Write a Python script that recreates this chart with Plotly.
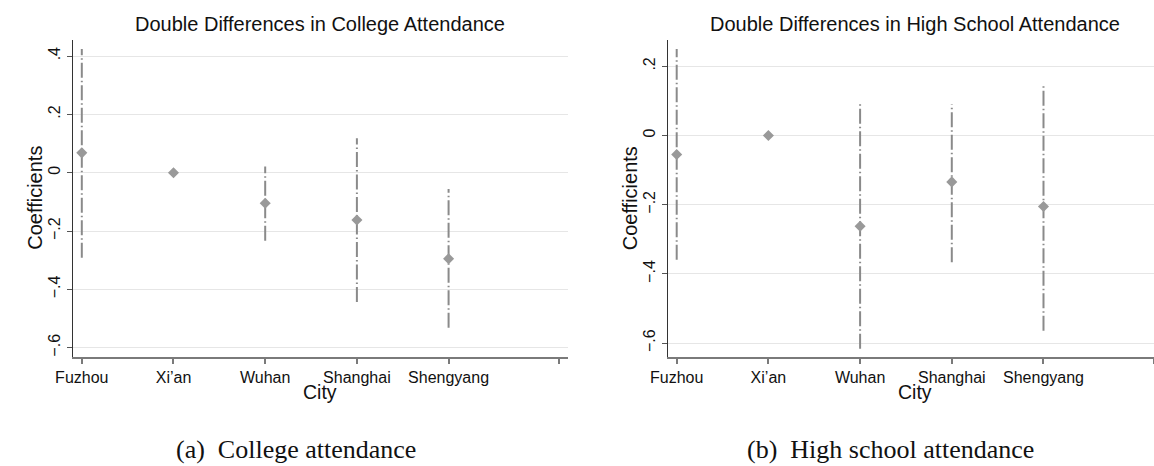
import plotly.graph_objects as go

# ---------------- data ----------------
cities = ["Fuzhou", "Xi\u2019an", "Wuhan", "Shanghai", "Shengyang"]
city_pos = [1, 2, 3, 4, 5]
xtick_vals = [1, 2, 3, 4, 5, 6.2]
xtick_text = ["Fuzhou", "Xi\u2019an", "Wuhan", "Shanghai", "Shengyang", ""]

college_coef = [0.068, 0.0, -0.105, -0.162, -0.295]
college_lo = [-0.292, None, -0.233, -0.443, -0.532]
college_hi = [0.424, None, 0.021, 0.118, -0.056]

high_coef = [-0.055, 0.0, -0.262, -0.134, -0.205]
high_lo = [-0.359, None, -0.616, -0.366, -0.564]
high_hi = [0.250, None, 0.090, 0.090, 0.143]

college_yticks = [-0.6, -0.4, -0.2, 0.0, 0.2, 0.4]
college_ytext = ["\u2212.6", "\u2212.4", "\u2212.2", "0", ".2", ".4"]
high_yticks = [-0.6, -0.4, -0.2, 0.0, 0.2]
high_ytext = ["\u2212.6", "\u2212.4", "\u2212.2", "0", ".2"]

titles = ["Double Differences in College Attendance",
          "Double Differences in High School Attendance"]
captions = ["(a)  College attendance", "(b)  High school attendance"]

# ---------------- figure ----------------
W, H = 1154, 466
fig = go.Figure()

GREY_MARK = "#999999"
GREY_LINE = "#8a8a8a"
SANS = "Liberation Sans, Arial, sans-serif"
SERIF = "Liberation Serif, Times New Roman, serif"


def add_panel(coef, lo, hi, xa, ya):
    for x, l, h in zip(city_pos, lo, hi):
        if l is None:
            continue
        fig.add_trace(go.Scatter(
            x=[x, x], y=[l, h], mode="lines", xaxis=xa, yaxis=ya,
            line=dict(color=GREY_LINE, width=2, dash="15px,3px,1.5px,3px"),
            showlegend=False, hoverinfo="skip"))
    fig.add_trace(go.Scatter(
        x=city_pos, y=coef, mode="markers", xaxis=xa, yaxis=ya,
        marker=dict(symbol="diamond", size=8.5, color=GREY_MARK,
                    line=dict(width=0)),
        showlegend=False))


add_panel(college_coef, college_lo, college_hi, "x", "y")
add_panel(high_coef, high_lo, high_hi, "x2", "y2")

ydom = [(H - 357) / H, (H - 40) / H]

xcommon = dict(
    tickmode="array", tickvals=xtick_vals, ticktext=xtick_text,
    showgrid=False, zeroline=False, showline=True, linecolor="#7a7a7a",
    linewidth=2, ticks="outside", ticklen=5, tickwidth=1.5, tickcolor="#7a7a7a",
    tickfont=dict(family=SANS, size=16, color="#111111"), fixedrange=True)
ycommon = dict(
    tickmode="array", showgrid=True, gridcolor="#e6e6e6", gridwidth=1,
    zeroline=False, showline=True, linecolor="#333333", linewidth=1,
    ticks="outside", ticklen=5, tickwidth=1, tickcolor="#555555",
    tickangle=-90, tickfont=dict(family=SANS, size=16, color="#111111"),
    fixedrange=True)

fig.update_layout(
    width=W, height=H,
    margin=dict(l=0, r=0, t=0, b=0),
    paper_bgcolor="white", plot_bgcolor="white",
    xaxis=dict(domain=[55.5 / W, 558.5 / W], range=[0.90, 6.30], **xcommon),
    yaxis=dict(domain=ydom, range=[-0.632, 0.455], tickvals=college_yticks,
               ticktext=college_ytext, **ycommon),
    xaxis2=dict(domain=[660 / W, 1.0], range=[0.902, 6.205], anchor="y2", **xcommon),
    yaxis2=dict(domain=ydom, range=[-0.640, 0.276], tickvals=high_yticks,
                ticktext=high_ytext, anchor="x2", **ycommon),
)

ann = []
# panel titles
for cx, t in zip([307, 911], titles):
    ann.append(dict(text=t, x=cx / W, y=(H - 24) / H, xref="paper", yref="paper",
                    xanchor="center", yanchor="middle", showarrow=False,
                    font=dict(family=SANS, size=20, color="#111111")))
# x axis titles
for cx in [307, 911]:
    ann.append(dict(text="City", x=cx / W, y=(H - 392) / H, xref="paper", yref="paper",
                    xanchor="center", yanchor="middle", showarrow=False,
                    font=dict(family=SANS, size=19.5, color="#111111")))
# y axis titles
for cx in [17, 622]:
    ann.append(dict(text="Coefficients", x=cx / W, y=(H - 198) / H, xref="paper",
                    yref="paper", xanchor="center", yanchor="middle", showarrow=False,
                    textangle=-90, font=dict(family=SANS, size=20, color="#111111")))
# captions
for cx, c in zip([282, 886], captions):
    ann.append(dict(text=c.replace("  ", "&nbsp; "), x=cx / W, y=(H - 449) / H,
                    xref="paper", yref="paper", xanchor="center", yanchor="middle",
                    showarrow=False, font=dict(family=SERIF, size=26, color="#111111")))
fig.update_layout(annotations=ann)

fig.write_html(
    "out.html",
    config={"displayModeBar": False},
    post_script="document.body.style.margin='0';document.body.style.overflow='hidden';")
